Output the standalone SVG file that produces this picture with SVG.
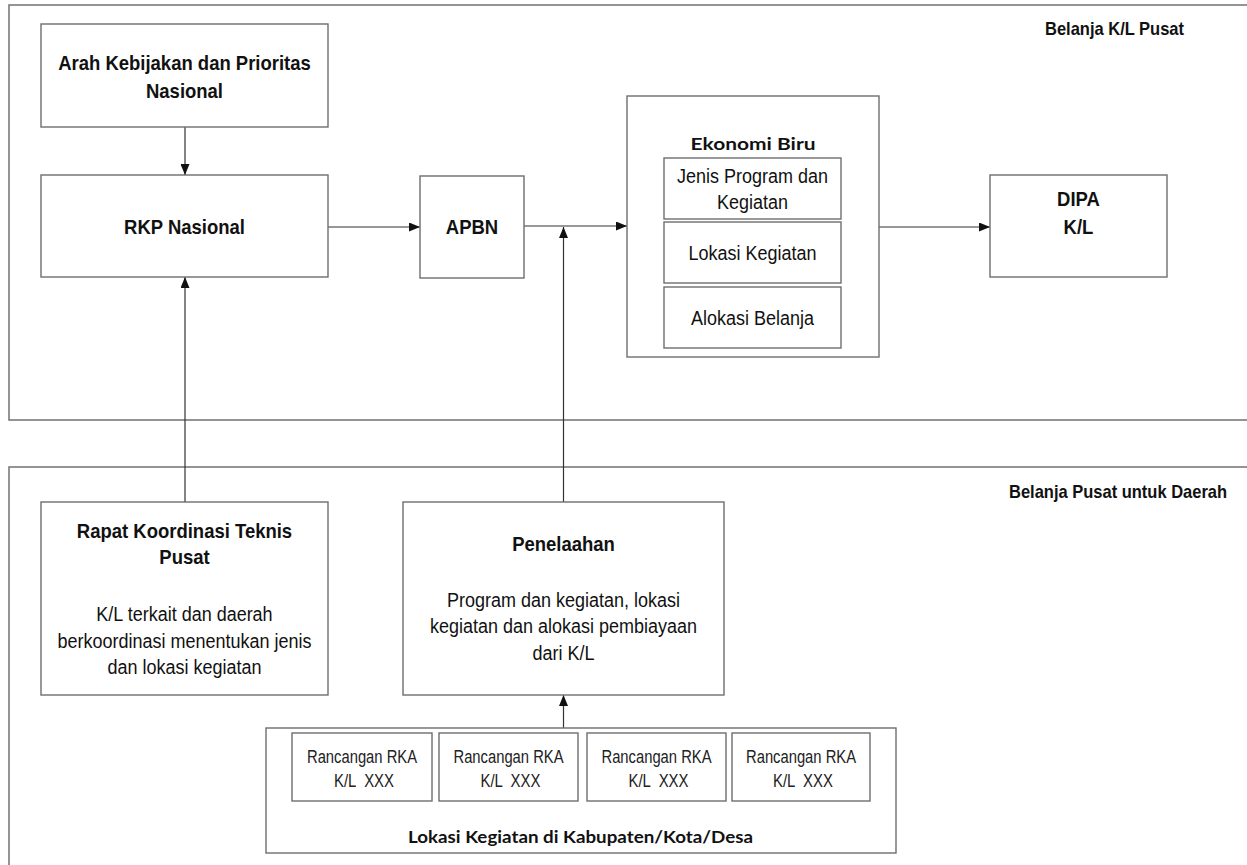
<svg xmlns="http://www.w3.org/2000/svg" width="1247" height="865" viewBox="0 0 1247 865">
<defs>
<marker id="ah" viewBox="0 0 11 9" refX="11" refY="4.5" markerWidth="11" markerHeight="9" markerUnits="userSpaceOnUse" orient="auto">
<path d="M0,0 L11,4.5 L0,9 Z" fill="#111"/>
</marker>
<style>
.frame{fill:none;stroke:#7a7a7a;stroke-width:1.6}
.box{fill:#fff;stroke:#6e6e6e;stroke-width:1.4}
.con{fill:none;stroke:#333;stroke-width:1.2}
.b,.r,.lab{transform-box:fill-box;transform-origin:center;transform:scaleY(1.13)}
.n{transform-box:fill-box;transform-origin:center;transform:scaleY(1.18)}
.b{font-family:"Liberation Sans",Arial,sans-serif;font-weight:bold;font-size:18.5px;fill:#111;text-anchor:middle}
.r{font-family:"Liberation Sans",Arial,sans-serif;font-size:18px;fill:#111;text-anchor:middle}
.lab{font-family:"Liberation Sans",Arial,sans-serif;font-weight:bold;font-size:16.5px;fill:#111}
.cal{font-family:Lato,"Liberation Sans",sans-serif;font-weight:bold;font-size:17.5px;fill:#111;text-anchor:middle}
.n{font-family:"Liberation Sans",Arial,sans-serif;font-size:15.5px;fill:#222;text-anchor:middle}
</style>
</defs>
<g id="frames">
<rect id="frame-pusat" class="frame" x="9" y="5" width="1260" height="415"/>
<rect id="frame-daerah" class="frame" x="9" y="467" width="1260" height="420"/>
<text class="lab" x="1045" y="34">Belanja K/L Pusat</text>
<text class="lab" x="1009" y="497">Belanja Pusat untuk Daerah</text>
</g>
<g id="connectors">
<line class="con" x1="185" y1="127" x2="185" y2="175" marker-end="url(#ah)"/>
<line class="con" x1="328" y1="227" x2="420" y2="227" marker-end="url(#ah)"/>
<line class="con" x1="524" y1="226" x2="627" y2="226" marker-end="url(#ah)"/>
<line class="con" x1="879" y1="227" x2="990" y2="227" marker-end="url(#ah)"/>
<line class="con" x1="185" y1="502" x2="185" y2="277" marker-end="url(#ah)"/>
<line class="con" x1="563.5" y1="502" x2="563.5" y2="227" marker-end="url(#ah)"/>
<line class="con" x1="563.5" y1="728" x2="563.5" y2="695" marker-end="url(#ah)"/>
</g>
<g id="arah">
<rect class="box" x="41" y="24" width="287" height="103"/>
<text class="b" x="184.5" y="69">Arah Kebijakan dan Prioritas</text>
<text class="b" x="184.5" y="97">Nasional</text>
</g>
<g id="rkp">
<rect class="box" x="41" y="175" width="287" height="102"/>
<text class="b" x="184.5" y="233">RKP Nasional</text>
</g>
<g id="apbn">
<rect class="box" x="420" y="176" width="104" height="102"/>
<text class="b" x="472" y="233">APBN</text>
</g>
<g id="ekonomi-biru">
<rect class="box" x="627" y="96" width="252" height="261"/>
<text class="cal" x="753" y="150" textLength="125" lengthAdjust="spacingAndGlyphs">Ekonomi Biru</text>
<rect class="box" x="664" y="158" width="177" height="61"/>
<text class="r" x="752.5" y="182">Jenis Program dan</text>
<text class="r" x="752.5" y="208">Kegiatan</text>
<rect class="box" x="664" y="222" width="177" height="61"/>
<text class="r" x="752.5" y="259">Lokasi Kegiatan</text>
<rect class="box" x="664" y="287" width="177" height="61"/>
<text class="r" x="752.5" y="324">Alokasi Belanja</text>
</g>
<g id="dipa">
<rect class="box" x="990" y="175" width="177" height="102"/>
<text class="b" x="1078.5" y="205">DIPA</text>
<text class="b" x="1078.5" y="233">K/L</text>
</g>
<g id="rapat">
<rect class="box" x="41" y="502" width="287" height="193"/>
<text class="b" x="184.5" y="537">Rapat Koordinasi Teknis</text>
<text class="b" x="184.5" y="563">Pusat</text>
<text class="r" x="184.5" y="620">K/L terkait dan daerah</text>
<text class="r" x="184.5" y="647">berkoordinasi menentukan jenis</text>
<text class="r" x="184.5" y="673">dan lokasi kegiatan</text>
</g>
<g id="penelaahan">
<rect class="box" x="403" y="502" width="321" height="193"/>
<text class="b" x="563.5" y="550">Penelaahan</text>
<text class="r" x="563.5" y="606">Program dan kegiatan, lokasi</text>
<text class="r" x="563.5" y="632">kegiatan dan alokasi pembiayaan</text>
<text class="r" x="563.5" y="659">dari K/L</text>
</g>
<g id="lokasi">
<rect class="box" x="266" y="728" width="630" height="125"/>
<text class="cal" x="580.5" y="843" textLength="345" lengthAdjust="spacingAndGlyphs">Lokasi Kegiatan di Kabupaten/Kota/Desa</text>
</g>
<g id="rka-1">
<rect class="box" x="292" y="733" width="140" height="68"/>
<text class="n" x="362" y="762" textLength="110" lengthAdjust="spacingAndGlyphs">Rancangan RKA</text>
<text class="n" x="364" y="786" textLength="60" lengthAdjust="spacingAndGlyphs" xml:space="preserve">K/L  XXX</text>
</g>
<g id="rka-2">
<rect class="box" x="439" y="733" width="139" height="68"/>
<text class="n" x="508.5" y="762" textLength="110" lengthAdjust="spacingAndGlyphs">Rancangan RKA</text>
<text class="n" x="510.5" y="786" textLength="60" lengthAdjust="spacingAndGlyphs" xml:space="preserve">K/L  XXX</text>
</g>
<g id="rka-3">
<rect class="box" x="587" y="733" width="139" height="68"/>
<text class="n" x="656.5" y="762" textLength="110" lengthAdjust="spacingAndGlyphs">Rancangan RKA</text>
<text class="n" x="658.5" y="786" textLength="60" lengthAdjust="spacingAndGlyphs" xml:space="preserve">K/L  XXX</text>
</g>
<g id="rka-4">
<rect class="box" x="732" y="733" width="138" height="68"/>
<text class="n" x="801" y="762" textLength="110" lengthAdjust="spacingAndGlyphs">Rancangan RKA</text>
<text class="n" x="803" y="786" textLength="60" lengthAdjust="spacingAndGlyphs" xml:space="preserve">K/L  XXX</text>
</g>
</svg>
